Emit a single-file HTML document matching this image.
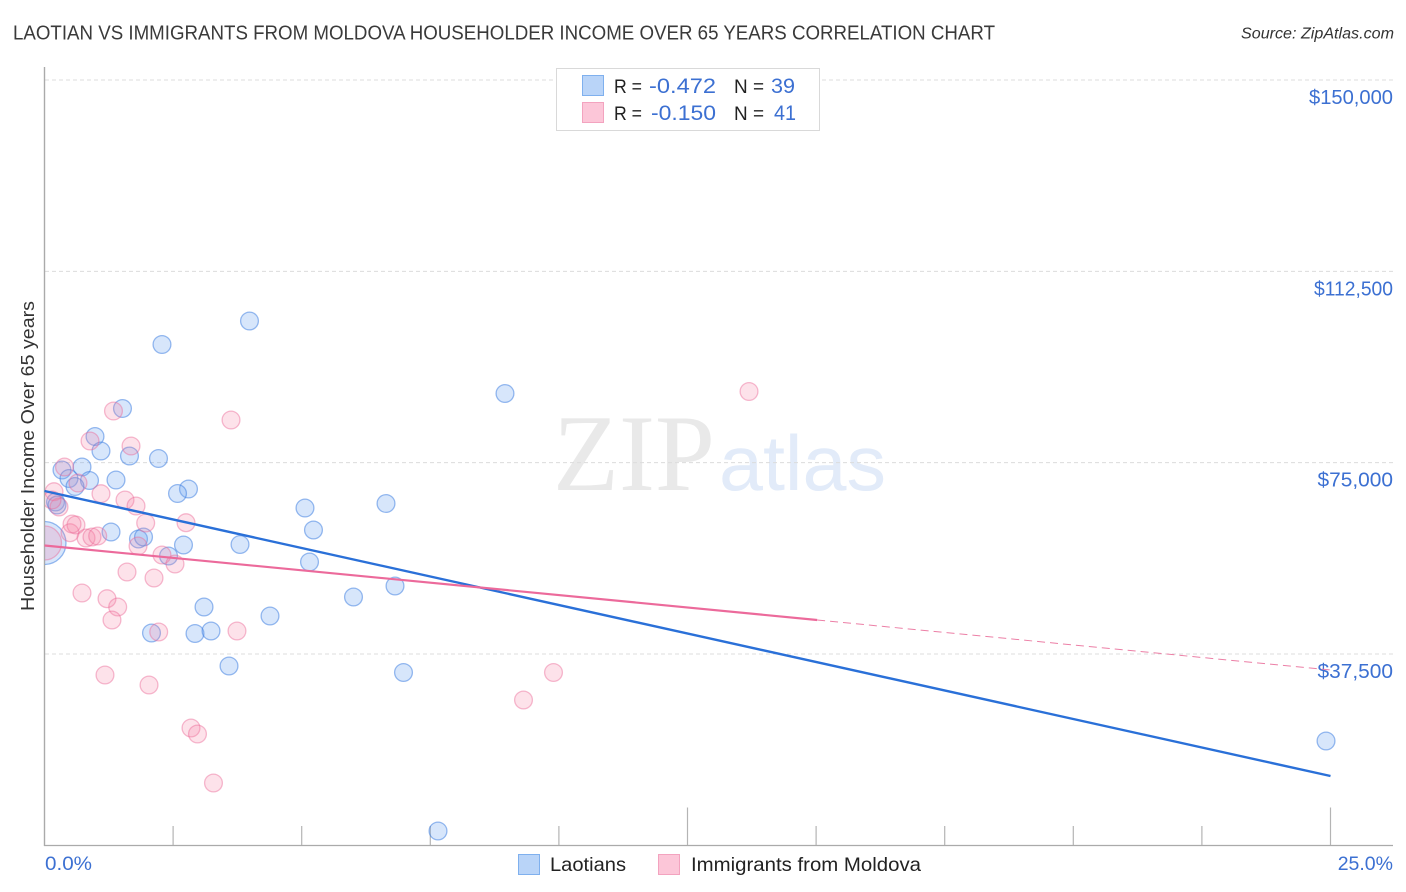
<!DOCTYPE html>
<html lang="en">
<head>
<meta charset="utf-8">
<title>Laotian vs Immigrants from Moldova Householder Income Correlation Chart</title>
<style>
html,body{margin:0;padding:0;background:#fff;}
svg{display:block;font-family:"Liberation Sans",sans-serif;}
</style>
</head>
<body>
<svg id="chart" width="1406" height="892" viewBox="0 0 1406 892" xmlns="http://www.w3.org/2000/svg">
  <defs><clipPath id="plot-clip"><rect x="45" y="60" width="1350" height="785"/></clipPath></defs>
  <rect x="0" y="0" width="1406" height="892" fill="#fff"/>
  <text x="13" y="39.5" font-size="20" fill="#3a3a3a" textLength="982" lengthAdjust="spacingAndGlyphs">LAOTIAN VS IMMIGRANTS FROM MOLDOVA HOUSEHOLDER INCOME OVER 65 YEARS CORRELATION CHART</text>
  <text x="1241" y="38.5" font-size="15.5" font-style="italic" fill="#333" textLength="153" lengthAdjust="spacingAndGlyphs">Source: ZipAtlas.com</text>
  <text x="553" y="490" font-family="'Liberation Serif',serif" font-size="109" fill="#e9e9e9" textLength="162" lengthAdjust="spacingAndGlyphs">ZIP</text>
  <text x="719" y="490" font-size="78" fill="#e2ebf9" textLength="167" lengthAdjust="spacingAndGlyphs">atlas</text>
  <g id="grid"></g>
  <g id="axes"></g>
  <g id="blue-points" clip-path="url(#plot-clip)"></g>
  <g id="pink-points" clip-path="url(#plot-clip)"></g>
  <g id="trends"></g>
  <text transform="translate(34 611) rotate(-90)" font-size="18.5" fill="#333" textLength="310" lengthAdjust="spacingAndGlyphs">Householder Income Over 65 years</text>

  <g>
    <rect x="556.5" y="68.5" width="263" height="62" fill="#fff" stroke="#d9d9d9" stroke-width="1"/>
    <rect x="582.5" y="75.5" width="21" height="20" fill="#b9d4f8" stroke="#7fb0ee" stroke-width="1"/>
    <rect x="582.5" y="102.5" width="21" height="20" fill="#fcc6d8" stroke="#f3a3bf" stroke-width="1"/>
    <text x="614" y="93" font-size="19.5" fill="#222" textLength="28" lengthAdjust="spacingAndGlyphs">R =</text>
    <text x="649" y="93" font-size="21.5" fill="#3c70d2" textLength="67" lengthAdjust="spacingAndGlyphs">-0.472</text>
    <text x="734" y="93" font-size="19.5" fill="#222" textLength="30" lengthAdjust="spacingAndGlyphs">N =</text>
    <text x="771" y="93" font-size="21.5" fill="#3c70d2" textLength="24" lengthAdjust="spacingAndGlyphs">39</text>
    <text x="614" y="120" font-size="19.5" fill="#222" textLength="28" lengthAdjust="spacingAndGlyphs">R =</text>
    <text x="651" y="120" font-size="21.5" fill="#3c70d2" textLength="65" lengthAdjust="spacingAndGlyphs">-0.150</text>
    <text x="734" y="120" font-size="19.5" fill="#222" textLength="30" lengthAdjust="spacingAndGlyphs">N =</text>
    <text x="774" y="120" font-size="21.5" fill="#3c70d2" textLength="22" lengthAdjust="spacingAndGlyphs">41</text>
  </g>

  <g>
    <g>
      <rect x="518.5" y="854.5" width="21" height="20" fill="#b9d4f8" stroke="#7fb0ee" stroke-width="1"/>
      <text x="550" y="871" font-size="19.5" fill="#222" textLength="76" lengthAdjust="spacingAndGlyphs">Laotians</text>
    </g>
    <g>
      <rect x="658.5" y="854.5" width="21" height="20" fill="#fcc6d8" stroke="#f3a3bf" stroke-width="1"/>
      <text x="691" y="871" font-size="19.5" fill="#222" textLength="230" lengthAdjust="spacingAndGlyphs">Immigrants from Moldova</text>
    </g>
  </g>
</svg>
<script>
// ---- chart data ----
const yTickValues = [150000, 112500, 75000, 37500];
const yTickLabels = ["$150,000", "$112,500", "$75,000", "$37,500"];
const xTickValues = [2.5, 5, 7.5, 10, 12.5, 15, 17.5, 20, 22.5, 25];
const xMajorTicks = [12.5, 25];
const xEndLabels = ["0.0%", "25.0%"];

const laotianX = [3.985, 2.284, 8.952, 1.516, 0.982, 1.098, 1.652, 2.216, 0.729, 0.340, 0.476, 0.875, 0.593, 1.390, 2.799, 2.586, 0.214, 0.243, 6.639, 5.064, 5.229, 1.293, 1.827, 1.925, 2.702, 3.801, 2.411, 5.152, 6.814, 6.007, 3.101, 4.384, 2.080, 2.926, 3.237, 3.587, 6.979, 24.913, 7.650];
const laotianY = [102764, 98158, 88554, 85614, 80126, 77284, 76304, 75814, 74148, 73560, 71894, 71502, 70326, 71600, 69836, 68954, 67288, 66700, 66994, 66112, 61800, 61408, 60036, 60428, 58860, 58958, 56704, 55528, 50824, 48668, 46708, 44944, 41612, 41514, 42004, 35144, 33870, 20444, 2804];
const laotianLargeX = [0.0];
const laotianLargeY = [59250];

const moldovaX = [13.696, 3.626, 1.341, 1.682, 0.885, 0.389, 0.651, 1.098, 1.565, 1.779, 1.967, 2.751, 0.185, 0.282, 0.146, 0.496, 0.612, 0.535, 0.807, 0.923, 1.034, 1.818, 2.284, 2.537, 1.604, 2.129, 0.729, 1.215, 1.423, 1.312, 2.220, 3.742, 1.176, 2.032, 2.848, 2.974, 3.285, 9.312, 9.895];
const moldovaY = [88946, 83360, 85124, 78264, 79244, 74148, 71012, 68915, 67680, 66504, 63172, 63231, 69307, 66308, 67680, 61271, 62780, 62976, 60232, 60428, 60624, 58664, 56900, 55136, 53568, 52392, 49452, 48335, 46708, 44160, 41808, 42004, 33380, 31420, 22992, 21816, 12212, 28480, 33870];
const moldovaLargeX = [0.0];
const moldovaLargeY = [59250];

const laotianTrendX = [0, 25];
const laotianTrendY = [69444, 13584];
const moldovaTrendX = [0, 15.02];
const moldovaTrendY = [58762, 44160];
const moldovaDashX = [15.02, 25];
const moldovaDashY = [44160, 34360];

// ---- axis functions ----
function xScale(v) { return 44.5 + v * 51.44; }
function yScale(v) { return 80 + (150000 - v) / 196; }

// approximate advance widths of the reference's proportional numerals
function numeralWidth(s) {
  let w = 0;
  for (const ch of s) {
    if (ch === "1") w += 7;
    else if (ch === ",") w += 5;
    else if (ch === "7") w += 10.5;
    else w += 12;
  }
  return w;
}

const NS = "http://www.w3.org/2000/svg";
function make(tag, parent) {
  const el = document.createElementNS(NS, tag);
  parent.appendChild(el);
  return el;
}

// gridlines and y tick labels
const grid = document.getElementById("grid");
const axes = document.getElementById("axes");
yTickValues.forEach(function (v, i) {
  const line = make("line", grid);
  
  
  line.setAttribute("x1", 45);
  line.setAttribute("x2", 1393);
  line.setAttribute("y1", yScale(v));
  line.setAttribute("y2", yScale(v));
  line.setAttribute("stroke", "#dcdcdc");
  line.setAttribute("stroke-width", "1");
  line.setAttribute("stroke-dasharray", "4 3");

  const label = make("text", axes);
  
  
  label.setAttribute("x", 1393);
  label.setAttribute("y", yScale(v) + 24);
  label.setAttribute("text-anchor", "end");
  label.setAttribute("font-size", "20");
  label.setAttribute("fill", "#3c70d2");
  label.setAttribute("textLength", numeralWidth(yTickLabels[i]));
  label.setAttribute("lengthAdjust", "spacingAndGlyphs");
  label.textContent = yTickLabels[i];
});

// axis lines
const yAxis = make("line", axes);


yAxis.setAttribute("x1", 44.5);
yAxis.setAttribute("x2", 44.5);
yAxis.setAttribute("y1", 67);
yAxis.setAttribute("y2", 846);
yAxis.setAttribute("stroke", "#aaa");
yAxis.setAttribute("stroke-width", "1.4");

const xAxis = make("line", axes);


xAxis.setAttribute("x1", 44);
xAxis.setAttribute("x2", 1393);
xAxis.setAttribute("y1", 845.5);
xAxis.setAttribute("y2", 845.5);
xAxis.setAttribute("stroke", "#aaa");
xAxis.setAttribute("stroke-width", "1.2");

// x ticks
xTickValues.forEach(function (v) {
  const tick = make("line", axes);
  
  
  tick.setAttribute("x1", xScale(v));
  tick.setAttribute("x2", xScale(v));
  tick.setAttribute("y1", xMajorTicks.indexOf(v) >= 0 ? 807.5 : 826);
  tick.setAttribute("y2", 845);
  tick.setAttribute("stroke", "#b4b4b4");
  tick.setAttribute("stroke-width", "1.2");
});

// x end labels
const xLabelStart = make("text", axes);


xLabelStart.setAttribute("x", 45);
xLabelStart.setAttribute("y", 870);
xLabelStart.setAttribute("font-size", "19.5");
xLabelStart.setAttribute("fill", "#3c70d2");
xLabelStart.setAttribute("textLength", "47");
xLabelStart.setAttribute("lengthAdjust", "spacingAndGlyphs");
xLabelStart.textContent = xEndLabels[0];

const xLabelEnd = make("text", axes);


xLabelEnd.setAttribute("x", 1393);
xLabelEnd.setAttribute("y", 870);
xLabelEnd.setAttribute("text-anchor", "end");
xLabelEnd.setAttribute("font-size", "19.5");
xLabelEnd.setAttribute("fill", "#3c70d2");
xLabelEnd.textContent = xEndLabels[1];

// points
const bluePts = document.getElementById("blue-points");
const pinkPts = document.getElementById("pink-points");

function blueDot(x, y, r) {
  const c = make("circle", bluePts);
  
  
  c.setAttribute("cx", xScale(x));
  c.setAttribute("cy", yScale(y));
  c.setAttribute("r", r);
  c.setAttribute("fill", "rgba(110,165,240,0.28)");
  c.setAttribute("stroke", "rgba(60,125,225,0.52)");
  c.setAttribute("stroke-width", "1.3");
}
function pinkDot(x, y, r) {
  const c = make("circle", pinkPts);
  
  
  c.setAttribute("cx", xScale(x));
  c.setAttribute("cy", yScale(y));
  c.setAttribute("r", r);
  c.setAttribute("fill", "rgba(245,130,165,0.23)");
  c.setAttribute("stroke", "rgba(235,105,150,0.45)");
  c.setAttribute("stroke-width", "1.3");
}
laotianLargeX.forEach(function (x, i) { blueDot(x, laotianLargeY[i], 21.5); });
laotianX.forEach(function (x, i) { blueDot(x, laotianY[i], 8.9); });
moldovaLargeX.forEach(function (x, i) { pinkDot(x, moldovaLargeY[i], 17); });
moldovaX.forEach(function (x, i) { pinkDot(x, moldovaY[i], 8.9); });

// trend lines
const trends = document.getElementById("trends");

const blueTrend = make("line", trends);


blueTrend.setAttribute("x1", xScale(laotianTrendX[0]));
blueTrend.setAttribute("y1", yScale(laotianTrendY[0]));
blueTrend.setAttribute("x2", xScale(laotianTrendX[1]));
blueTrend.setAttribute("y2", yScale(laotianTrendY[1]));
blueTrend.setAttribute("stroke", "#2a70d8");
blueTrend.setAttribute("stroke-width", "2.4");

const pinkTrend = make("line", trends);


pinkTrend.setAttribute("x1", xScale(moldovaTrendX[0]));
pinkTrend.setAttribute("y1", yScale(moldovaTrendY[0]));
pinkTrend.setAttribute("x2", xScale(moldovaTrendX[1]));
pinkTrend.setAttribute("y2", yScale(moldovaTrendY[1]));
pinkTrend.setAttribute("stroke", "#ec6a9b");
pinkTrend.setAttribute("stroke-width", "2.2");

const pinkDash = make("line", trends);


pinkDash.setAttribute("x1", xScale(moldovaDashX[0]));
pinkDash.setAttribute("y1", yScale(moldovaDashY[0]));
pinkDash.setAttribute("x2", xScale(moldovaDashX[1]));
pinkDash.setAttribute("y2", yScale(moldovaDashY[1]));
pinkDash.setAttribute("stroke", "#ec7fa6");
pinkDash.setAttribute("stroke-width", "1");
pinkDash.setAttribute("stroke-dasharray", "8 5");
</script>
</body>
</html>
